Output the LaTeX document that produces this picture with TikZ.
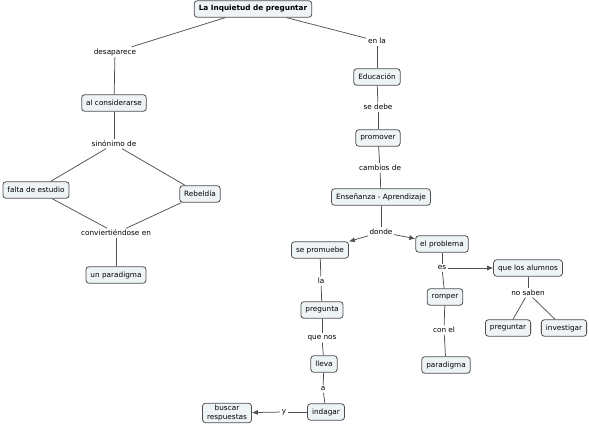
\documentclass[tikz,border=0pt]{standalone}
\usepackage{fontspec}
\setmainfont{DejaVu Sans}
\usetikzlibrary{arrows.meta}
\definecolor{boxfill}{HTML}{EEF3F6}
\definecolor{lnc}{HTML}{505050}
\newcommand{\fs}{\fontsize{7.3}{8.5}\selectfont}
\begin{document}
\begin{tikzpicture}[x=1pt,y=-1pt,
  concept/.style={draw=lnc,fill=boxfill,rounded corners=3pt,line width=0.8pt,font=\fs,inner xsep=4.5pt,inner ysep=0pt,minimum height=16.5pt,align=center},
  lbl/.style={font=\fs,inner sep=1.5pt,fill=white},
  conn/.style={draw=lnc,line width=0.75pt},
  arr/.style={conn,-{Latex[length=6pt,width=5pt]}}]
\useasboundingbox (0,0) rectangle (589,427);
% nodes
\node[concept,font=\fs\bfseries] (top) at (253,9) {La Inquietud de preguntar};
\node[lbl] (desap) at (115,52) {desaparece};
\node[lbl] (enla) at (377,41) {en la};
\node[concept] (alcons) at (114,103) {al considerarse};
\node[lbl] (sinon) at (114,144) {sinónimo de};
\node[concept] (falta) at (36,190) {falta de estudio};
\node[concept] (rebel) at (200,194) {Rebeldía};
\node[lbl] (conv) at (116,233) {conviertiéndose en};
\node[concept] (unpar) at (116,275) {un paradigma};
\node[concept] (educ) at (377,77) {Educación};
\node[lbl] (sedebe) at (378,107) {se debe};
\node[concept] (promo) at (378,138) {promover};
\node[lbl] (cambios) at (380,168) {cambios de};
\node[concept] (ensen) at (381,197) {Enseñanza - Aprendizaje};
\node[lbl] (donde) at (381,232) {donde};
\node[concept] (sepro) at (320,250) {se promuebe};
\node[concept] (elprob) at (442,244) {el problema};
\node[lbl] (es) at (442,268) {es};
\node[concept] (quelos) at (528,268) {que los alumnos};
\node[lbl] (la) at (321,281) {la};
\node[concept] (romper) at (445,297) {romper};
\node[lbl] (nosaben) at (528,293) {no saben};
\node[concept] (pregunta) at (322,310) {pregunta};
\node[lbl] (quenos) at (322,338) {que nos};
\node[concept] (lleva) at (324,364) {lleva};
\node[lbl] (a) at (323,389) {a};
\node[concept] (indagar) at (326,412) {indagar};
\node[lbl] (y) at (284,412) {y};
\node[concept,inner ysep=2pt] (buscar) at (227,413) {buscar\\respuestas};
\node[lbl] (conel) at (444,330) {con el};
\node[concept] (paradigma) at (446,365) {paradigma};
\node[concept] (preguntar) at (508,328) {preguntar};
\node[concept] (investigar) at (564,328) {investigar};
% connectors
\draw[conn] (top) -- (desap);
\draw[conn] (desap) -- (alcons);
\draw[conn] (top) -- (enla);
\draw[conn] (enla) -- (educ);
\draw[conn] (alcons) -- (sinon);
\draw[conn] (sinon) -- (falta);
\draw[conn] (sinon) -- (rebel);
\draw[conn] (falta) -- (conv);
\draw[conn] (rebel) -- (conv);
\draw[conn] (conv) -- (unpar);
\draw[conn] (educ) -- (sedebe);
\draw[conn] (sedebe) -- (promo);
\draw[conn] (promo) -- (cambios);
\draw[conn] (cambios) -- (ensen);
\draw[conn] (ensen) -- (donde);
\draw[arr] (donde) -- (sepro);
\draw[arr] (donde) -- (elprob);
\draw[conn] (elprob) -- (es);
\draw[arr] (es) -- (quelos);
\draw[conn] (es) -- (romper);
\draw[conn] (quelos) -- (nosaben);
\draw[conn] (nosaben) -- (preguntar);
\draw[conn] (nosaben) -- (investigar);
\draw[conn] (sepro) -- (la);
\draw[conn] (la) -- (pregunta);
\draw[conn] (pregunta) -- (quenos);
\draw[conn] (quenos) -- (lleva);
\draw[conn] (lleva) -- (a);
\draw[conn] (a) -- (indagar);
\draw[conn] (indagar) -- (y);
\draw[arr] (y) -- (buscar);
\draw[conn] (romper) -- (conel);
\draw[conn] (conel) -- (paradigma);
\end{tikzpicture}
\end{document}
